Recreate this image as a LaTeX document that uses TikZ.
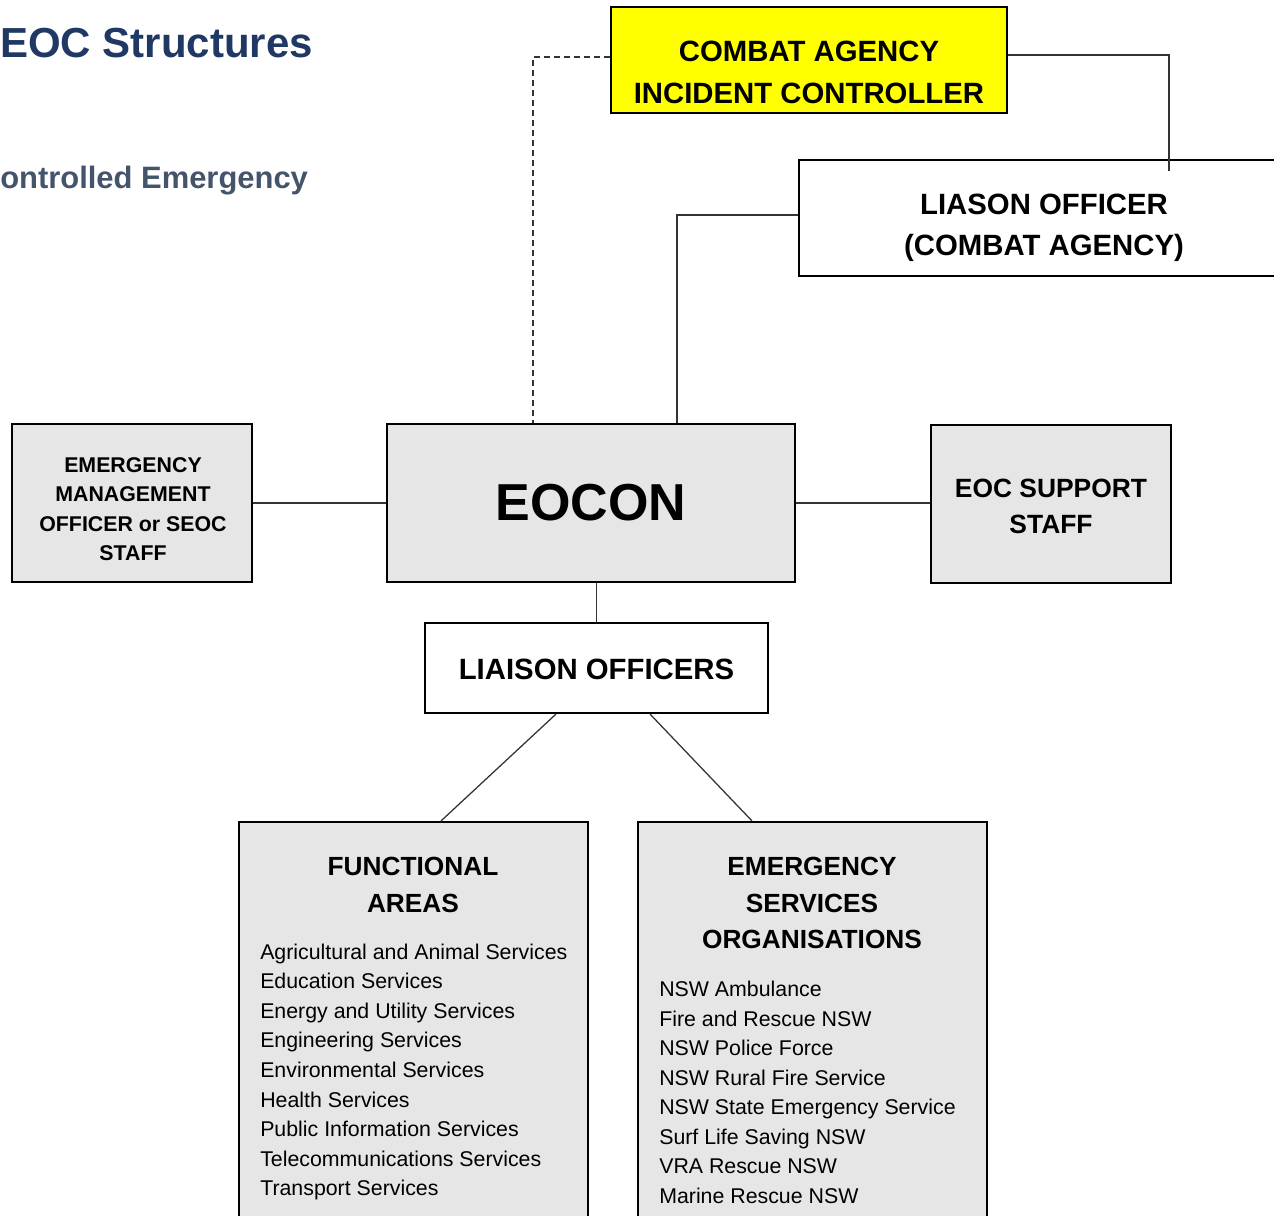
\documentclass[tikz,border=0pt]{standalone}
\usepackage{fontspec}
\setmainfont{Liberation Sans}
\usetikzlibrary{calc}
\newdimen\pxu \pxu=0.75pt
\definecolor{titleblue}{HTML}{1F3864}
\definecolor{subblue}{HTML}{44546A}
\definecolor{boxgray}{HTML}{E6E6E6}
\definecolor{ylw}{HTML}{FFFF00}
\definecolor{conn}{HTML}{333333}
\begin{document}
\begin{tikzpicture}[x=0.75pt,y=-0.75pt,
  box/.style={draw=black, line width=1.6pt, inner sep=0pt, align=center},
  graybox/.style={box, fill=boxgray},
  whitebox/.style={box, fill=white},
  conline/.style={draw=conn, line width=0.95pt},
  itemtext/.style={anchor=base west, inner sep=0pt, font={\fontsize{16pt}{19pt}\selectfont}},
  bigbold/.style={font={\fontsize{22pt}{31.5pt}\selectfont\bfseries}, align=center, inner sep=0pt},
  titlebold/.style={font={\fontsize{19.7pt}{27.4pt}\selectfont\bfseries}, align=center, inner sep=0pt}
]
\path[use as bounding box, clip] (0,0) rectangle (1274,1216);

% titles
\node[anchor=base west, inner sep=0pt, text=titleblue, font={\fontsize{31.5pt}{36pt}\selectfont\bfseries}] (title) at (0,58) {EOC Structures};
\node[anchor=base west, inner sep=0pt, text=subblue, font={\fontsize{23.2pt}{28pt}\selectfont\bfseries}] (subtitle) at (0,189) {ontrolled Emergency};

% boxes
\node[box, fill=ylw, minimum width=396\pxu, minimum height=106\pxu] (ca) at (809,60) {};
\node[bigbold] (catext) at (809,72) {COMBAT AGENCY\\INCIDENT CONTROLLER};

\node[whitebox, minimum width=491\pxu, minimum height=116\pxu] (lo) at (1044.5,218) {};
\node[bigbold, font={\fontsize{22pt}{30.75pt}\selectfont\bfseries}] (lotext) at (1044,228) {LIASON OFFICER\\(COMBAT AGENCY)};

\node[graybox, minimum width=408\pxu, minimum height=158\pxu, font={\fontsize{39pt}{44pt}\selectfont\bfseries}] (eocon) at (591,503) {EOCON};

\node[graybox, minimum width=240\pxu, minimum height=158\pxu] (emo) at (132,503) {};
\node[align=center, inner sep=0pt, font={\fontsize{16pt}{22pt}\selectfont\bfseries}] (emotext) at (133,509) {EMERGENCY\\MANAGEMENT\\OFFICER or SEOC\\STAFF};

\node[graybox, minimum width=240\pxu, minimum height=158\pxu] (ess) at (1051,504) {};
\node[align=center, inner sep=0pt, font={\fontsize{19.8pt}{27pt}\selectfont\bfseries}] (esstext) at (1051,506) {EOC SUPPORT\\STAFF};

\node[whitebox, minimum width=343\pxu, minimum height=90\pxu] (lio) at (596.5,668) {};
\node[inner sep=0pt, font={\fontsize{22pt}{26pt}\selectfont\bfseries}] (liotext) at (596.5,669.5) {LIAISON OFFICERS};

\node[graybox, minimum width=349\pxu, minimum height=418\pxu] (fa) at (413.5,1031) {};
\node[titlebold] (fatext) at (413,885) {FUNCTIONAL\\AREAS};

\node[graybox, minimum width=349\pxu, minimum height=418\pxu] (eso) at (812.5,1031) {};
\node[titlebold] (esotext) at (812,903) {EMERGENCY\\SERVICES\\ORGANISATIONS};

% lists
\foreach \t [count=\i from 0] in {Agricultural and Animal Services, Education Services, Energy and Utility Services, Engineering Services, Environmental Services, Health Services, Public Information Services, Telecommunications Services, Transport Services}
  \node[itemtext] (fa\i) at (260,{959+\i*29.6}) {\t};
\foreach \t [count=\i from 0] in {NSW Ambulance, Fire and Rescue NSW, NSW Police Force, NSW Rural Fire Service, NSW State Emergency Service, Surf Life Saving NSW, VRA Rescue NSW, Marine Rescue NSW}
  \node[itemtext] (eso\i) at (659,{996.5+\i*29.5}) {\t};

% connectors
\coordinate (lotick) at (1169,171);
\draw[conline] ([yshift=5\pxu]ca.east) -| (lotick);
\draw[conline] ([yshift=3\pxu]lo.west) -| ([xshift=86\pxu]eocon.north);
\draw[conline, dash pattern=on 6\pxu off 4\pxu] ([yshift=3\pxu]ca.west) -| ([xshift=-58\pxu]eocon.north);
\draw[conline] (emo.east) -- (eocon.west);
\draw[conline] (eocon.east) -- (eocon.east -| ess.west);
\draw[conline] (eocon.south -| lio.north) -- (lio.north);
\draw[conline] ([xshift=-40.5\pxu]lio.south) -- ([xshift=27.5\pxu]fa.north);
\draw[conline] ([xshift=53.5\pxu]lio.south) -- ([xshift=-60.5\pxu]eso.north);
\end{tikzpicture}
\end{document}
